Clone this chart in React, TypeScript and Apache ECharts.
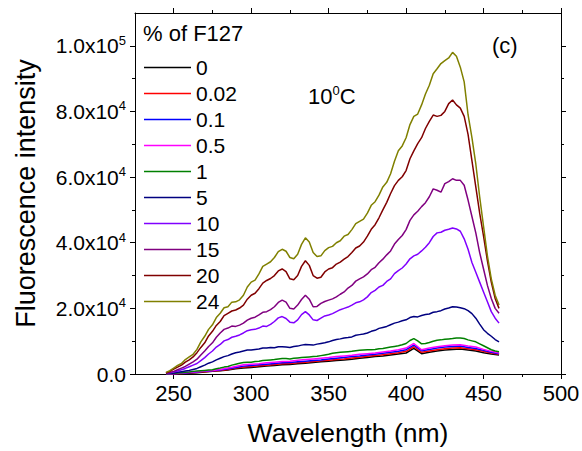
import React, { useEffect, useRef } from "react";
import * as echarts from "echarts";

const FONT = "'Liberation Sans', Arial, Helvetica, sans-serif";

// Wavelength grids (nm)
const wavelength = [245, 250, 255, 260, 265, 270, 275, 280, 285, 290, 295, 300, 305, 310, 315, 320, 325, 330, 335, 340, 345, 350, 355, 360, 365, 370, 375, 380, 385, 390, 395, 400, 405, 410, 415, 420, 425, 430, 435, 440, 445, 450, 455, 460];
const wavelengthFine = [245, 247.5, 250, 252.5, 255, 257.5, 260, 262.5, 265, 267.5, 270, 272.5, 275, 277.5, 280, 282.5, 285, 287.5, 290, 292.5, 295, 297.5, 300, 302.5, 305, 307.5, 310, 312.5, 315, 317.5, 320, 322.5, 325, 327.5, 330, 332.5, 335, 337.5, 340, 342.5, 345, 347.5, 350, 352.5, 355, 357.5, 360, 362.5, 365, 367.5, 370, 372.5, 375, 377.5, 380, 382.5, 385, 387.5, 390, 392.5, 395, 397.5, 400, 402.5, 405, 407.5, 410, 412.5, 415, 417.5, 420, 422.5, 425, 427.5, 430, 432.5, 435, 437.5, 440, 442.5, 445, 447.5, 450, 452.5, 455, 457.5, 460];

// Intensities in units of 1e3 counts
const f0 = [0, 0.05, 0.1, 0.25, 0.4, 0.6, 0.8, 1, 1.2, 1.6, 1.8, 2, 2.2, 2.4, 2.6, 2.8, 2.9, 3.1, 3.3, 3.5, 3.7, 3.9, 4.1, 4.3, 4.5, 4.8, 5, 5.3, 5.5, 5.8, 6.1, 6.4, 7.8, 6.2, 6.6, 7, 7.3, 7.5, 7.6, 7.3, 7, 6.5, 6.1, 5.8];
const f002 = [0, 0.05, 0.15, 0.3, 0.5, 0.7, 0.9, 1.1, 1.4, 1.8, 2.1, 2.3, 2.5, 2.7, 2.9, 3.1, 3.2, 3.4, 3.6, 3.8, 4, 4.2, 4.4, 4.6, 4.9, 5.1, 5.4, 5.6, 5.9, 6.2, 6.5, 6.9, 8.3, 6.6, 7, 7.4, 7.7, 7.9, 8, 7.7, 7.4, 6.9, 6.4, 6];
const f01 = [0, 0.1, 0.2, 0.4, 0.6, 0.8, 1, 1.2, 1.6, 2, 2.4, 2.6, 2.8, 3, 3.2, 3.4, 3.5, 3.7, 3.9, 4.1, 4.3, 4.6, 4.8, 5, 5.3, 5.5, 5.8, 6, 6.3, 6.6, 6.9, 7.4, 8.8, 7.1, 7.5, 7.9, 8.2, 8.4, 8.5, 8.1, 7.8, 7.2, 6.6, 6.2];
const f05 = [0, 0.1, 0.3, 0.5, 0.7, 0.9, 1.1, 1.4, 1.8, 2.3, 2.8, 3, 3.1, 3.4, 3.6, 3.8, 3.9, 4.2, 4.4, 4.6, 4.8, 5, 5.3, 5.5, 5.7, 6, 6.2, 6.4, 6.7, 7, 7.4, 7.9, 9.3, 7.4, 7.9, 8.3, 8.6, 8.8, 8.9, 8.5, 8.2, 7.5, 6.9, 6.4];
const f1 = [0.05, 0.1, 0.2, 0.3, 0.4, 0.5, 0.6, 0.8, 0.9, 1.0, 1.1, 1.2, 1.3, 1.6, 1.8, 2.1, 2.3, 2.7, 3, 3.3, 3.5, 3.6, 3.6, 3.8, 3.9, 4.1, 4.2, 4.3, 4.4, 4.6, 4.7, 4.7, 4.6, 4.8, 4.9, 5.0, 5.1, 5.2, 5.3, 5.4, 5.6, 5.8, 6, 6.3, 6.5, 6.6, 6.7, 6.8, 6.9, 7.1, 7.2, 7.3, 7.4, 7.4, 7.5, 7.7, 7.8, 8.0, 8.2, 8.4, 8.6, 8.9, 9.3, 10.2, 10.8, 10.1, 9.2, 9.3, 9.6, 10.0, 10.3, 10.4, 10.6, 10.7, 10.8, 11.0, 11, 10.8, 10.4, 10.1, 9.8, 9.2, 8.6, 8.0, 7.4, 7.0, 6.8];
const f5 = [0.1, 0.2, 0.3, 0.5, 0.7, 0.9, 1.1, 1.4, 1.7, 2.2, 2.7, 3.3, 3.7, 4.3, 4.8, 5.3, 5.6, 6.1, 6.5, 6.7, 7, 7.3, 7.3, 7.5, 7.6, 7.9, 7.9, 8.1, 8, 8.3, 8.3, 8.2, 8.1, 8.4, 8.5, 8.8, 9, 8.9, 8.8, 9.1, 9.3, 9.5, 9.8, 10.2, 10.5, 10.7, 11, 11.1, 11.3, 11.8, 12, 12.2, 12.5, 13, 13.3, 13.9, 14.2, 14.5, 15, 15.5, 15.8, 16.2, 16.5, 17.2, 17.5, 17.4, 17.8, 18.1, 18.3, 18.8, 19, 19.3, 19.8, 20.1, 20.5, 20.4, 20.2, 19.9, 19.3, 18.4, 17, 15.2, 13.5, 12.4, 11.5, 10.5, 9.8];
const f10 = [0.2, 0.4, 0.6, 0.9, 1.3, 1.7, 2.2, 2.7, 3.2, 4.1, 5, 6.1, 7, 8.2, 9, 10.1, 10.5, 11.2, 11.5, 11.9, 12.5, 13.2, 13.5, 13.6, 14, 14.6, 14.5, 15.1, 16, 17.1, 17.5, 16.9, 15.8, 15.6, 16.5, 18.1, 19, 18, 16.5, 16.3, 17, 17.7, 18, 18.4, 19, 19.6, 20, 20.4, 21, 21.7, 22, 22.6, 23.5, 24.8, 25.5, 26.5, 27, 28.2, 29, 30.6, 31.5, 32.3, 33.5, 35.1, 36, 36.5, 37.5, 38.6, 40, 41.9, 43, 43.2, 43.8, 44.1, 44.5, 44.2, 43.5, 41.2, 38, 34, 31, 28, 25, 22, 19, 17, 15.5];
const f15 = [0.2, 0.5, 0.8, 1.3, 1.8, 2.3, 3, 3.7, 4.5, 5.8, 7, 8.4, 9.5, 11.2, 12.5, 13.6, 14, 14.6, 14.5, 14.9, 15.5, 16.4, 17, 17.3, 18, 18.8, 19, 19.6, 20.5, 21.8, 22.5, 21.9, 20, 19.8, 21, 22.7, 24, 22.8, 20.5, 20.6, 21.5, 22.1, 22.5, 22.9, 23.5, 24.3, 25, 26.2, 27, 28.3, 29, 29.6, 30.5, 31.8, 32.5, 33.9, 35, 36.3, 37.5, 39.6, 41, 42.2, 44, 46.8, 48.5, 49.6, 51, 52.2, 54, 56.4, 56, 55.4, 58, 58.6, 59.5, 59, 59, 57.5, 53, 48, 43, 37, 32, 27, 23, 20, 18.5];
const f20 = [0.3, 0.8, 1.5, 2.1, 2.7, 3.6, 4.3, 5.2, 6.5, 8.1, 9.5, 11.6, 13, 14.8, 16, 17.8, 18.5, 19.2, 19.5, 20.1, 21, 22.8, 24, 24.6, 26, 27.7, 28.5, 29.1, 30, 31.4, 32, 31.2, 29, 28.7, 30, 32.8, 34.5, 33.1, 30, 29.2, 29.5, 31.1, 32, 32.4, 33.5, 34.1, 35, 35.8, 37, 38.4, 39, 40.2, 42, 44.1, 45.5, 47.6, 50, 52.3, 55, 57.4, 59, 60.1, 62, 65.6, 68, 70.2, 72, 74.8, 77, 78.9, 78.5, 78.8, 80, 82.4, 83.5, 82, 81, 78.5, 73, 65, 57, 49, 42, 34.5, 28, 23, 20];
const f24 = [0.5, 1.0, 1.8, 2.6, 3.2, 4.4, 5.2, 6.0, 7.5, 9.8, 11.5, 13.6, 15, 17.2, 18.5, 20.2, 20.5, 21.9, 22, 22.6, 24, 26.5, 28, 28.6, 30.5, 32.8, 33.5, 34.2, 35.5, 37.3, 38, 37.4, 35.5, 35.1, 36.5, 39.5, 41.5, 40.2, 37, 35.8, 36, 37.6, 38.5, 38.9, 40, 40.6, 42, 42.5, 44, 45.8, 46.5, 47.2, 49, 51.4, 52.5, 54.5, 57, 58.4, 61, 64.8, 68, 69.5, 72, 76, 78.5, 79.2, 82, 85.3, 88, 91.5, 93, 94.6, 95.5, 96.3, 98, 96.8, 93.5, 89, 79, 72, 64, 54, 45, 36, 29, 24, 21];

const seriesNames = ["0", "0.02", "0.1", "0.5", "1", "5", "10", "15", "20", "24"];
const seriesValues = [f0, f002, f01, f05, f1, f5, f10, f15, f20, f24];
const seriesX = [wavelength, wavelength, wavelength, wavelength, wavelengthFine, wavelengthFine, wavelengthFine, wavelengthFine, wavelengthFine, wavelengthFine];
const seriesColors = ["#000000", "#ff0000", "#0000ff", "#ff00ff", "#008000", "#000080", "#8000ff", "#800080", "#800000", "#808000"];

const xMajor = [250, 300, 350, 400, 450, 500];
const xMinor = [275, 325, 375, 425, 475];
const yMajor = [0, 20000, 40000, 60000, 80000, 100000];
const yMinor = [10000, 30000, 50000, 70000, 90000];

const black = "#000000";

function yFmt(v: number) {
  if (v === 0) return "0.0";
  const e = Math.floor(Math.log10(v) + 1e-9);
  const m = v / Math.pow(10, e);
  return `${m.toFixed(1)}x10{sup|${e}}`;
}

export default function App() {
  const ref = useRef<HTMLDivElement>(null);
  useEffect(() => {
    document.body.style.margin = "0";
    if (!ref.current) return;
    const chart = echarts.init(ref.current, undefined, { renderer: "svg" });

    const xBase = (position: string, major: boolean, labels: boolean) => ({
      type: "value",
      position,
      min: 225,
      max: 500,
      axisLine: { show: major, onZero: false, lineStyle: { color: black, width: 1 } },
      axisTick: {
        show: true,
        inside: false,
        length: major ? 5 : 3,
        customValues: major ? xMajor : xMinor,
        lineStyle: { color: black, width: 1 },
      },
      axisLabel: labels
        ? { show: true, customValues: xMajor, fontSize: 22, color: black, fontFamily: FONT, margin: 8 }
        : { show: false },
      splitLine: { show: false },
    });

    const yBase = (position: string, major: boolean, labels: boolean) => ({
      type: "value",
      position,
      min: 0,
      max: 110000,
      axisLine: { show: major, onZero: false, lineStyle: { color: black, width: 1 } },
      axisTick: {
        show: true,
        inside: false,
        length: major ? 5 : 3,
        customValues: major ? yMajor : yMinor,
        lineStyle: { color: black, width: 1 },
      },
      axisLabel: labels
        ? {
            show: true,
            customValues: yMajor,
            formatter: yFmt,
            fontSize: 21,
            lineHeight: 24,
            color: black,
            fontFamily: FONT,
            margin: 9,
            rich: {
              sup: { fontSize: 13, lineHeight: 13, verticalAlign: "top", color: black, fontFamily: FONT },
            },
          }
        : { show: false },
      splitLine: { show: false },
    });

    const xAxes: any[] = [
      {
        ...xBase("bottom", true, true),
        name: "Wavelength (nm)",
        nameLocation: "middle",
        nameGap: 45,
        nameTextStyle: { fontSize: 26.5, color: black, fontFamily: FONT },
      },
      xBase("bottom", false, false),
      xBase("top", true, false),
      xBase("top", false, false),
    ];
    const yAxes: any[] = [
      {
        ...yBase("left", true, true),
        name: "Fluorescence intensity",
        nameLocation: "middle",
        nameGap: 96,
        nameTextStyle: { fontSize: 27, color: black, fontFamily: FONT },
      },
      yBase("left", false, false),
      yBase("right", true, false),
      yBase("right", false, false),
    ];

    const option: any = {
      animation: false,
      backgroundColor: "#ffffff",
      textStyle: { fontFamily: FONT },
      grid: { left: 135, top: 13, right: 21, bottom: 77, containLabel: false, outerBoundsMode: "none" },
      xAxis: xAxes,
      yAxis: yAxes,
      legend: {
        data: seriesNames,
        orient: "vertical",
        left: 144,
        top: 57,
        padding: 0,
        icon: "path://M0 0H94V3H0Z",
        itemWidth: 47,
        itemHeight: 14,
        itemGap: 5,
        textStyle: { fontSize: 21, lineHeight: 20, color: black, fontFamily: FONT },
      },
      graphic: [
        {
          type: "text",
          left: 143,
          top: 22,
          style: { text: "% of F127", font: `22px ${FONT}`, fill: black },
        },
        {
          type: "text",
          left: 308,
          top: 84,
          style: {
            text: "10{s|0}C",
            font: `22px ${FONT}`,
            fill: black,
            lineHeight: 24,
            rich: { s: { fontSize: 13, lineHeight: 13, verticalAlign: "top", fill: black, fontFamily: FONT } },
          },
        },
        {
          type: "text",
          left: 492,
          top: 34,
          style: { text: "(c)", font: `22px ${FONT}`, fill: black },
        },
      ],
      series: seriesNames.map((name, i) => ({
        name,
        type: "line",
        xAxisIndex: 0,
        yAxisIndex: 0,
        symbol: "none",
        showSymbol: false,
        lineStyle: { color: seriesColors[i], width: 1.5 },
        itemStyle: { color: seriesColors[i] },
        data: seriesX[i].map((w, j) => [w, seriesValues[i][j] * 1000]),
      })),
    };
    chart.setOption(option);
    return () => chart.dispose();
  }, []);
  return <div ref={ref} style={{ width: 582, height: 451, position: "absolute", left: 0, top: 0 }} />;
}
